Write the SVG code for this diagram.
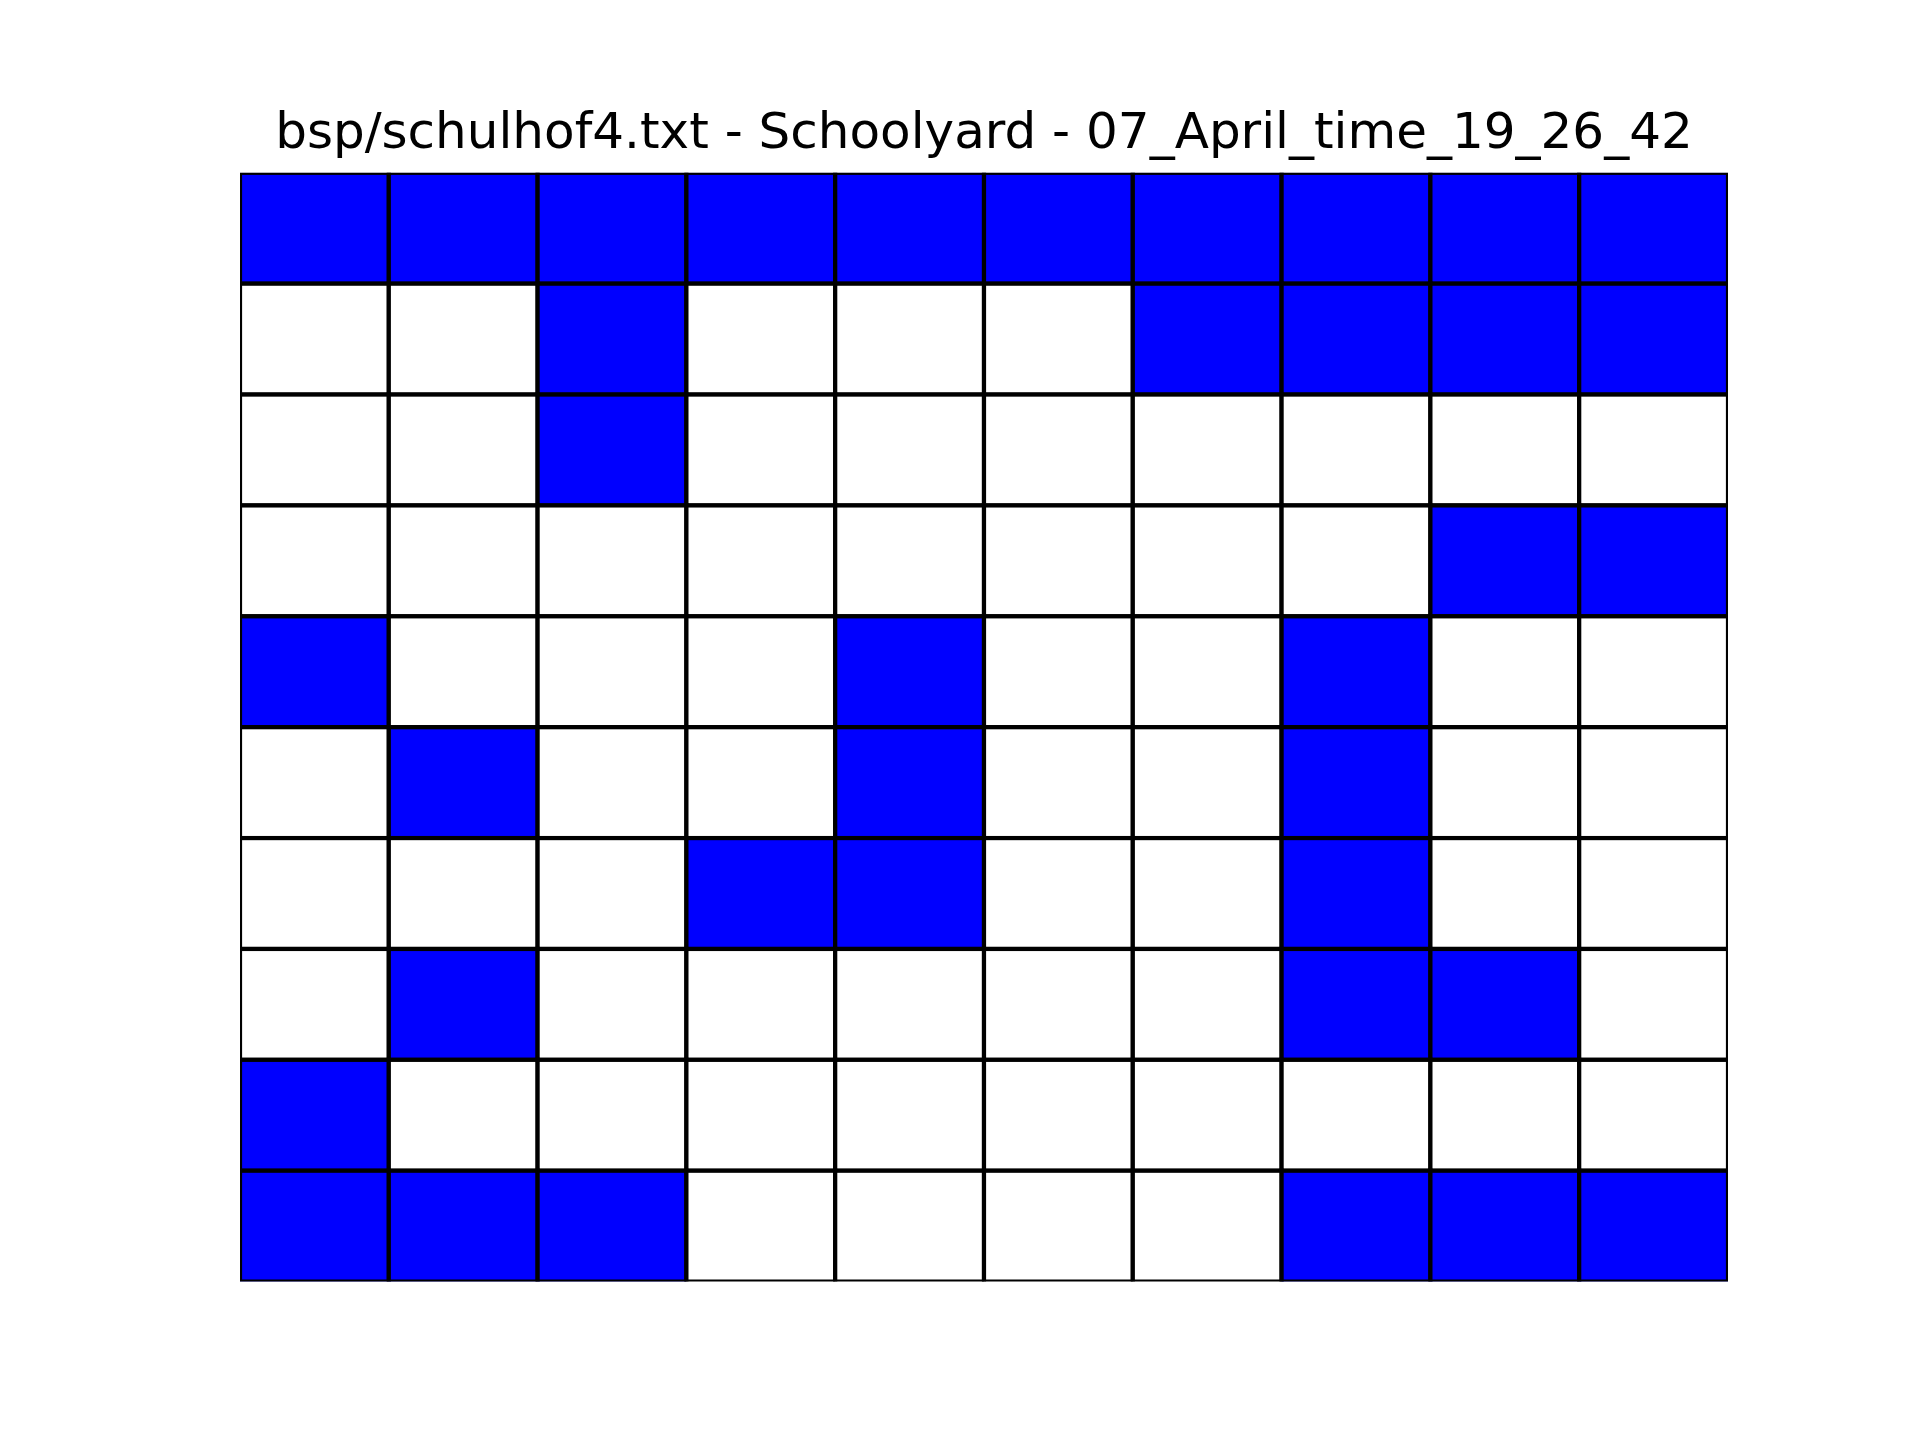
<svg xmlns="http://www.w3.org/2000/svg" width="1920" height="1440" viewBox="0 0 1920 1440">
<style>
.b{fill:#0000ff;stroke:#000;stroke-width:4.2}
.w{fill:#fff;stroke:#000;stroke-width:4.2}
.t{font-family:"DejaVu Sans",sans-serif;font-size:50px;fill:#000;text-anchor:middle}
</style>
<defs><clipPath id="ax"><rect x="240" y="172.8" width="1488" height="1108.8"/></clipPath></defs>
<rect width="1920" height="1440" fill="#fff"/>
<text id="title" class="t" x="984" y="147.8">bsp/schulhof4.txt - Schoolyard - 07_April_time_19_26_42</text>
<g id="grid" clip-path="url(#ax)">
<g id="r0"><rect class="b" x="240" y="172.8" width="148.8" height="110.88"/><rect class="b" x="388.8" y="172.8" width="148.8" height="110.88"/><rect class="b" x="537.6" y="172.8" width="148.8" height="110.88"/><rect class="b" x="686.4" y="172.8" width="148.8" height="110.88"/><rect class="b" x="835.2" y="172.8" width="148.8" height="110.88"/><rect class="b" x="984" y="172.8" width="148.8" height="110.88"/><rect class="b" x="1132.8" y="172.8" width="148.8" height="110.88"/><rect class="b" x="1281.6" y="172.8" width="148.8" height="110.88"/><rect class="b" x="1430.4" y="172.8" width="148.8" height="110.88"/><rect class="b" x="1579.2" y="172.8" width="148.8" height="110.88"/></g>
<g id="r1"><rect class="w" x="240" y="283.68" width="148.8" height="110.88"/><rect class="w" x="388.8" y="283.68" width="148.8" height="110.88"/><rect class="b" x="537.6" y="283.68" width="148.8" height="110.88"/><rect class="w" x="686.4" y="283.68" width="148.8" height="110.88"/><rect class="w" x="835.2" y="283.68" width="148.8" height="110.88"/><rect class="w" x="984" y="283.68" width="148.8" height="110.88"/><rect class="b" x="1132.8" y="283.68" width="148.8" height="110.88"/><rect class="b" x="1281.6" y="283.68" width="148.8" height="110.88"/><rect class="b" x="1430.4" y="283.68" width="148.8" height="110.88"/><rect class="b" x="1579.2" y="283.68" width="148.8" height="110.88"/></g>
<g id="r2"><rect class="w" x="240" y="394.56" width="148.8" height="110.88"/><rect class="w" x="388.8" y="394.56" width="148.8" height="110.88"/><rect class="b" x="537.6" y="394.56" width="148.8" height="110.88"/><rect class="w" x="686.4" y="394.56" width="148.8" height="110.88"/><rect class="w" x="835.2" y="394.56" width="148.8" height="110.88"/><rect class="w" x="984" y="394.56" width="148.8" height="110.88"/><rect class="w" x="1132.8" y="394.56" width="148.8" height="110.88"/><rect class="w" x="1281.6" y="394.56" width="148.8" height="110.88"/><rect class="w" x="1430.4" y="394.56" width="148.8" height="110.88"/><rect class="w" x="1579.2" y="394.56" width="148.8" height="110.88"/></g>
<g id="r3"><rect class="w" x="240" y="505.44" width="148.8" height="110.88"/><rect class="w" x="388.8" y="505.44" width="148.8" height="110.88"/><rect class="w" x="537.6" y="505.44" width="148.8" height="110.88"/><rect class="w" x="686.4" y="505.44" width="148.8" height="110.88"/><rect class="w" x="835.2" y="505.44" width="148.8" height="110.88"/><rect class="w" x="984" y="505.44" width="148.8" height="110.88"/><rect class="w" x="1132.8" y="505.44" width="148.8" height="110.88"/><rect class="w" x="1281.6" y="505.44" width="148.8" height="110.88"/><rect class="b" x="1430.4" y="505.44" width="148.8" height="110.88"/><rect class="b" x="1579.2" y="505.44" width="148.8" height="110.88"/></g>
<g id="r4"><rect class="b" x="240" y="616.32" width="148.8" height="110.88"/><rect class="w" x="388.8" y="616.32" width="148.8" height="110.88"/><rect class="w" x="537.6" y="616.32" width="148.8" height="110.88"/><rect class="w" x="686.4" y="616.32" width="148.8" height="110.88"/><rect class="b" x="835.2" y="616.32" width="148.8" height="110.88"/><rect class="w" x="984" y="616.32" width="148.8" height="110.88"/><rect class="w" x="1132.8" y="616.32" width="148.8" height="110.88"/><rect class="b" x="1281.6" y="616.32" width="148.8" height="110.88"/><rect class="w" x="1430.4" y="616.32" width="148.8" height="110.88"/><rect class="w" x="1579.2" y="616.32" width="148.8" height="110.88"/></g>
<g id="r5"><rect class="w" x="240" y="727.2" width="148.8" height="110.88"/><rect class="b" x="388.8" y="727.2" width="148.8" height="110.88"/><rect class="w" x="537.6" y="727.2" width="148.8" height="110.88"/><rect class="w" x="686.4" y="727.2" width="148.8" height="110.88"/><rect class="b" x="835.2" y="727.2" width="148.8" height="110.88"/><rect class="w" x="984" y="727.2" width="148.8" height="110.88"/><rect class="w" x="1132.8" y="727.2" width="148.8" height="110.88"/><rect class="b" x="1281.6" y="727.2" width="148.8" height="110.88"/><rect class="w" x="1430.4" y="727.2" width="148.8" height="110.88"/><rect class="w" x="1579.2" y="727.2" width="148.8" height="110.88"/></g>
<g id="r6"><rect class="w" x="240" y="838.08" width="148.8" height="110.88"/><rect class="w" x="388.8" y="838.08" width="148.8" height="110.88"/><rect class="w" x="537.6" y="838.08" width="148.8" height="110.88"/><rect class="b" x="686.4" y="838.08" width="148.8" height="110.88"/><rect class="b" x="835.2" y="838.08" width="148.8" height="110.88"/><rect class="w" x="984" y="838.08" width="148.8" height="110.88"/><rect class="w" x="1132.8" y="838.08" width="148.8" height="110.88"/><rect class="b" x="1281.6" y="838.08" width="148.8" height="110.88"/><rect class="w" x="1430.4" y="838.08" width="148.8" height="110.88"/><rect class="w" x="1579.2" y="838.08" width="148.8" height="110.88"/></g>
<g id="r7"><rect class="w" x="240" y="948.96" width="148.8" height="110.88"/><rect class="b" x="388.8" y="948.96" width="148.8" height="110.88"/><rect class="w" x="537.6" y="948.96" width="148.8" height="110.88"/><rect class="w" x="686.4" y="948.96" width="148.8" height="110.88"/><rect class="w" x="835.2" y="948.96" width="148.8" height="110.88"/><rect class="w" x="984" y="948.96" width="148.8" height="110.88"/><rect class="w" x="1132.8" y="948.96" width="148.8" height="110.88"/><rect class="b" x="1281.6" y="948.96" width="148.8" height="110.88"/><rect class="b" x="1430.4" y="948.96" width="148.8" height="110.88"/><rect class="w" x="1579.2" y="948.96" width="148.8" height="110.88"/></g>
<g id="r8"><rect class="b" x="240" y="1059.84" width="148.8" height="110.88"/><rect class="w" x="388.8" y="1059.84" width="148.8" height="110.88"/><rect class="w" x="537.6" y="1059.84" width="148.8" height="110.88"/><rect class="w" x="686.4" y="1059.84" width="148.8" height="110.88"/><rect class="w" x="835.2" y="1059.84" width="148.8" height="110.88"/><rect class="w" x="984" y="1059.84" width="148.8" height="110.88"/><rect class="w" x="1132.8" y="1059.84" width="148.8" height="110.88"/><rect class="w" x="1281.6" y="1059.84" width="148.8" height="110.88"/><rect class="w" x="1430.4" y="1059.84" width="148.8" height="110.88"/><rect class="w" x="1579.2" y="1059.84" width="148.8" height="110.88"/></g>
<g id="r9"><rect class="b" x="240" y="1170.72" width="148.8" height="110.88"/><rect class="b" x="388.8" y="1170.72" width="148.8" height="110.88"/><rect class="b" x="537.6" y="1170.72" width="148.8" height="110.88"/><rect class="w" x="686.4" y="1170.72" width="148.8" height="110.88"/><rect class="w" x="835.2" y="1170.72" width="148.8" height="110.88"/><rect class="w" x="984" y="1170.72" width="148.8" height="110.88"/><rect class="w" x="1132.8" y="1170.72" width="148.8" height="110.88"/><rect class="b" x="1281.6" y="1170.72" width="148.8" height="110.88"/><rect class="b" x="1430.4" y="1170.72" width="148.8" height="110.88"/><rect class="b" x="1579.2" y="1170.72" width="148.8" height="110.88"/></g>
</g>
</svg>
